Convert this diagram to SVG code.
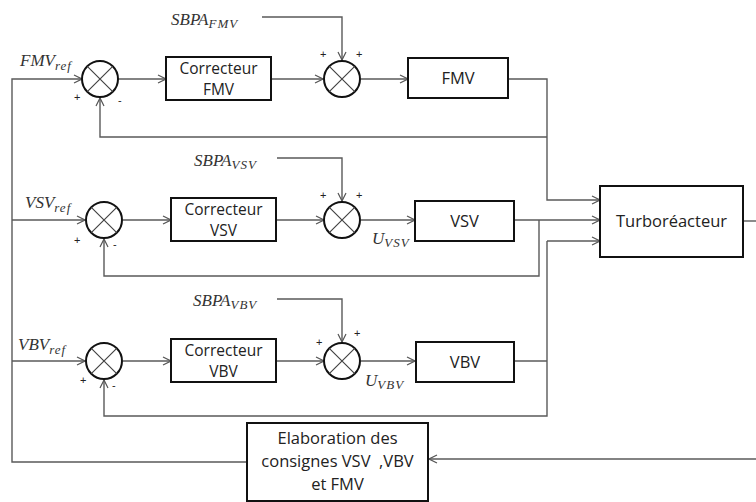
<svg xmlns="http://www.w3.org/2000/svg" width="756" height="502" viewBox="0 0 756 502">
<defs>
<marker id="ar" markerWidth="10" markerHeight="10" refX="9" refY="5" orient="auto" markerUnits="userSpaceOnUse">
<polyline points="1,1 9,5 1,9" fill="none" stroke="#555" stroke-width="1.2"/>
</marker>
<style>
.ln{fill:none;stroke:#5a5a5a;stroke-width:1.4}
.box{fill:#fff;stroke:#111;stroke-width:2}
.sum{fill:#fff;stroke:#111;stroke-width:2}
.x{stroke:#444;stroke-width:1.2}
.bt{font-family:"Open Sans","Liberation Sans",Arial,sans-serif;font-size:16.5px;fill:#222;text-anchor:middle}
.bc{font-size:15.5px}
.m{font-family:"Liberation Serif","Times New Roman",serif;font-style:italic;font-size:17px;fill:#333}
.sub{font-size:13px;letter-spacing:1px}
.sg{font-family:"Liberation Sans",Arial,sans-serif;font-size:11px;fill:#222}
</style>
</defs>
<rect width="756" height="502" fill="#fff"/>
<g id="connectors">
<path class="ln" d="M247,462 H12 V79 H82" marker-end="url(#ar)"/>
<path class="ln" d="M12,220 H85" marker-end="url(#ar)"/>
<path class="ln" d="M12,361 H85" marker-end="url(#ar)"/>
<path class="ln" d="M118,79 H166" marker-end="url(#ar)"/>
<path class="ln" d="M271,79 H323" marker-end="url(#ar)"/>
<path class="ln" d="M262,17 H342 V60" marker-end="url(#ar)"/>
<path class="ln" d="M361,79 H408" marker-end="url(#ar)"/>
<path class="ln" d="M508,79 H547 V200 H600" marker-end="url(#ar)"/>
<path class="ln" d="M547,137 H100 V98" marker-end="url(#ar)"/>
<path class="ln" d="M123,220 H171" marker-end="url(#ar)"/>
<path class="ln" d="M276,220 H324" marker-end="url(#ar)"/>
<path class="ln" d="M277,158 H342 V201" marker-end="url(#ar)"/>
<path class="ln" d="M361,220 H415" marker-end="url(#ar)"/>
<path class="ln" d="M514,220 H600" marker-end="url(#ar)"/>
<path class="ln" d="M539,220 V276 H104 V239" marker-end="url(#ar)"/>
<path class="ln" d="M123,361 H171" marker-end="url(#ar)"/>
<path class="ln" d="M276,361 H324" marker-end="url(#ar)"/>
<path class="ln" d="M277,299 H342 V342" marker-end="url(#ar)"/>
<path class="ln" d="M361,361 H415" marker-end="url(#ar)"/>
<path class="ln" d="M514,361 H547"/>
<path class="ln" d="M547,241 V416 H104 V380" marker-end="url(#ar)"/>
<path class="ln" d="M547,241 H600" marker-end="url(#ar)"/>
<path class="ln" d="M743,221 H756"/>
<path class="ln" d="M756,459 H429" marker-end="url(#ar)"/>
</g>
<g id="sum-fmv-1"><circle class="sum" cx="100" cy="79" r="18"/><path class="x" d="M87.3,66.3 L112.7,91.7 M112.7,66.3 L87.3,91.7"/><text class="sg" x="74" y="101">+</text><text class="sg" x="118" y="104">-</text></g>
<g id="sum-fmv-2"><circle class="sum" cx="342" cy="79" r="18"/><path class="x" d="M329.3,66.3 L354.7,91.7 M354.7,66.3 L329.3,91.7"/><text class="sg" x="320" y="58">+</text><text class="sg" x="356" y="58">+</text></g>
<g id="sum-vsv-1"><circle class="sum" cx="104" cy="220" r="18"/><path class="x" d="M91.3,207.3 L116.7,232.7 M116.7,207.3 L91.3,232.7"/><text class="sg" x="74" y="244">+</text><text class="sg" x="113" y="248">-</text></g>
<g id="sum-vsv-2"><circle class="sum" cx="342" cy="220" r="18"/><path class="x" d="M329.3,207.3 L354.7,232.7 M354.7,207.3 L329.3,232.7"/><text class="sg" x="320" y="199">+</text><text class="sg" x="356" y="199">+</text></g>
<g id="sum-vbv-1"><circle class="sum" cx="104" cy="361" r="18"/><path class="x" d="M91.3,348.3 L116.7,373.7 M116.7,348.3 L91.3,373.7"/><text class="sg" x="80" y="384">+</text><text class="sg" x="112" y="389">-</text></g>
<g id="sum-vbv-2"><circle class="sum" cx="342" cy="361" r="18"/><path class="x" d="M329.3,348.3 L354.7,373.7 M354.7,348.3 L329.3,373.7"/><text class="sg" x="316" y="346">+</text><text class="sg" x="354" y="337">+</text></g>
<g id="correcteur-fmv"><rect class="box" x="166" y="57" width="105" height="43"/><text class="bt bc" x="218.5" y="74">Correcteur</text><text class="bt bc" x="218.5" y="95">FMV</text></g>
<g id="correcteur-vsv"><rect class="box" x="171" y="198" width="105" height="43"/><text class="bt bc" x="223.5" y="215">Correcteur</text><text class="bt bc" x="223.5" y="236">VSV</text></g>
<g id="correcteur-vbv"><rect class="box" x="171" y="339" width="105" height="43"/><text class="bt bc" x="223.5" y="356">Correcteur</text><text class="bt bc" x="223.5" y="377">VBV</text></g>
<g id="fmv"><rect class="box" x="408" y="58" width="100" height="40"/><text class="bt" x="458" y="84">FMV</text></g>
<g id="vsv"><rect class="box" x="415" y="201" width="99" height="40"/><text class="bt" x="464.5" y="227">VSV</text></g>
<g id="vbv"><rect class="box" x="416" y="342" width="98" height="40"/><text class="bt" x="465" y="368">VBV</text></g>
<g id="turboreacteur"><rect class="box" x="600" y="186" width="143" height="71"/><text class="bt" x="671.5" y="227">Turboréacteur</text></g>
<g id="elaboration"><rect class="box" x="247" y="423" width="181" height="78"/><text class="bt" x="337.5" y="444">Elaboration des</text><text class="bt" x="337.5" y="467">consignes VSV&#160; ,VBV</text><text class="bt" x="337.5" y="490">et FMV</text></g>
<g id="labels">
<text class="m" x="20" y="66">FMV<tspan class="sub" dy="4">ref</tspan></text>
<text class="m" x="25" y="208">VSV<tspan class="sub" dy="4">ref</tspan></text>
<text class="m" x="18" y="350">VBV<tspan class="sub" dy="4">ref</tspan></text>
<text class="m" x="171" y="25">SBPA<tspan class="sub" dy="3">FMV</tspan></text>
<text class="m" x="194" y="166">SBPA<tspan class="sub" dy="3">VSV</tspan></text>
<text class="m" x="193" y="306">SBPA<tspan class="sub" dy="3">VBV</tspan></text>
<text class="m" x="372" y="244">U<tspan class="sub" dy="3">VSV</tspan></text>
<text class="m" x="365" y="386">U<tspan class="sub" dy="3">VBV</tspan></text>
</g>
</svg>
